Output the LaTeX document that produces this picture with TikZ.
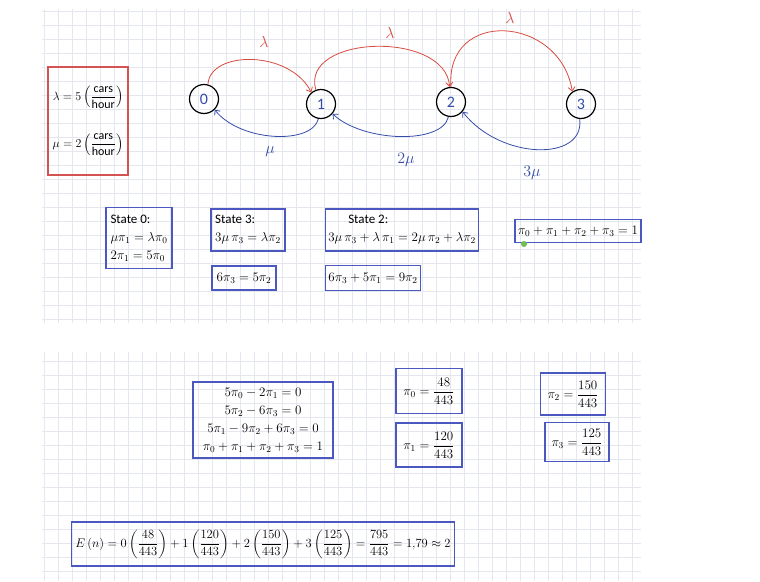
\documentclass[tikz,border=0pt]{standalone}
\usepackage{fix-cm}
\usepackage{amsmath}
\usepackage{fontspec}
\setmainfont{Carlito}
\newfontfamily\digitfont{Carlito}[NFSSFamily=carlitodig]
\DeclareSymbolFont{sfdigits}{TU}{carlitodig}{m}{n}
\DeclareMathSymbol{0}{\mathalpha}{sfdigits}{`0}
\DeclareMathSymbol{1}{\mathalpha}{sfdigits}{`1}
\DeclareMathSymbol{2}{\mathalpha}{sfdigits}{`2}
\DeclareMathSymbol{3}{\mathalpha}{sfdigits}{`3}
\DeclareMathSymbol{4}{\mathalpha}{sfdigits}{`4}
\DeclareMathSymbol{5}{\mathalpha}{sfdigits}{`5}
\DeclareMathSymbol{6}{\mathalpha}{sfdigits}{`6}
\DeclareMathSymbol{7}{\mathalpha}{sfdigits}{`7}
\DeclareMathSymbol{8}{\mathalpha}{sfdigits}{`8}
\DeclareMathSymbol{9}{\mathalpha}{sfdigits}{`9}
\usetikzlibrary{positioning,arrows.meta}

\definecolor{lamred}{RGB}{214,74,64}
\definecolor{mublue}{RGB}{52,76,168}
\definecolor{boxblue}{RGB}{74,88,192}
\definecolor{boxred}{RGB}{212,82,82}
\definecolor{gridcol}{RGB}{228,232,238}
\definecolor{dotgreen}{RGB}{110,190,80}

\tikzset{
  state/.style={circle,draw,line width=1.2pt,minimum size=29pt,inner sep=0pt,
    text=mublue,font=\fontsize{16}{16}\selectfont},
  lamarrow/.style={->,lamred,line width=0.8pt},
  muarrow/.style={->,mublue,line width=0.8pt},
  ratelabel/.style={font=\fontsize{16}{16}\selectfont},
  eqbox/.style={draw=boxblue,line width=1.3pt,inner sep=3pt,
    font=\fontsize{13}{18}\selectfont},
  gridline/.style={gridcol,line width=0.8pt},
}

\begin{document}
\begin{tikzpicture}[>={Straight Barb[length=4pt,width=7pt]},x=1pt,y=-1pt]
  \useasboundingbox (0,0) rectangle (760,581);
  % squared paper, two sheets
  \foreach \gx in {44,58,...,640} {
    \draw[gridline] (\gx,9) -- (\gx,323);
    \draw[gridline] (\gx,352) -- (\gx,581);
  }
  \foreach \gy in {11,25,...,323} \draw[gridline] (42,\gy) -- (641,\gy);
  \foreach \gy in {361,375,...,581} \draw[gridline] (42,\gy) -- (641,\gy);

  % rates
  \node[draw=boxred,line width=1.3pt,minimum width=80pt,minimum height=108pt,
    align=center,font=\fontsize{12}{14}\selectfont] (rates) at (88,121)
    {$\lambda=5\left(\dfrac{\text{cars}}{\text{hour}}\right)$\\[24pt]
     $\mu=2\left(\dfrac{\text{cars}}{\text{hour}}\right)$};

  % birth-death chain
  \node[state] (s0) at (204,99) {0};
  \node[state] (s1) at (321,104) {1};
  \node[state] (s2) at (451,102) {2};
  \node[state] (s3) at (581,104) {3};

  \draw[lamarrow] (s0.75) .. controls (210,50) and (290,50) .. (s1.130);
  \draw[lamarrow] (s1.110) .. controls (300,35) and (445,30) .. (s2.95);
  \draw[lamarrow] (s2.north) .. controls (445,8) and (560,15) .. (s3.125);
  \draw[muarrow] (s1.-100) .. controls (312,145) and (240,142) .. (s0.-45);
  \draw[muarrow] (s2.-100) .. controls (442,145) and (362,142) .. (s1.-40);
  \draw[muarrow] (s3.-95) .. controls (585,162) and (500,160) .. (s2.-40);

  \node[ratelabel,lamred] (l01) at (264,42) {$\lambda$};
  \node[ratelabel,lamred] (l12) at (390,33) {$\lambda$};
  \node[ratelabel,lamred] (l23) at (510,18) {$\lambda$};
  \node[ratelabel,mublue] (m10) at (270,152) {$\mu$};
  \node[ratelabel,mublue] (m21) at (406,160) {$2\mu$};
  \node[ratelabel,mublue] (m32) at (532,173) {$3\mu$};

  % balance equations
  \node[eqbox,minimum width=66pt,minimum height=61pt,align=left] (st0) at (139,238)
    {State 0:\\ $\mu\pi_1=\lambda\pi_0$\\ $2\pi_1=5\pi_0$};
  \node[eqbox,minimum width=74pt,minimum height=42pt,align=left] (st3) at (248,230)
    {State 3:\\ $3\mu\,\pi_3=\lambda\pi_2$};
  \node[eqbox,minimum width=64pt,minimum height=24pt] (st3b) at (244,278)
    {$6\pi_3=5\pi_2$};
  \node[eqbox,minimum width=153pt,minimum height=42pt,align=left] (st2) at (402,230)
    {\hspace*{20pt}State 2:\\ $3\mu\,\pi_3+\lambda\,\pi_1=2\mu\,\pi_2+\lambda\pi_2$};
  \node[eqbox,minimum width=95pt,minimum height=25pt] (st2b) at (373,278)
    {$6\pi_3+5\pi_1=9\pi_2$};
  \node[eqbox,minimum width=126pt,minimum height=23pt] (norm) at (578,231)
    {$\pi_0+\pi_1+\pi_2+\pi_3=1$};
  \fill[dotgreen] (524,244) circle (3pt);

  % solution
  \node[eqbox,minimum width=140pt,minimum height=76pt,align=center] (sys) at (263,420)
    {$5\pi_0-2\pi_1=0$\\ $5\pi_2-6\pi_3=0$\\ $5\pi_1-9\pi_2+6\pi_3=0$\\ $\pi_0+\pi_1+\pi_2+\pi_3=1$};
  \node[eqbox,minimum width=66pt,minimum height=45pt] (p0) at (429,391) {$\pi_0=\dfrac{48}{443}$};
  \node[eqbox,minimum width=66pt,minimum height=44pt] (p1) at (429,445) {$\pi_1=\dfrac{120}{443}$};
  \node[eqbox,minimum width=65pt,minimum height=42pt] (p2) at (573,394) {$\pi_2=\dfrac{150}{443}$};
  \node[eqbox,minimum width=64pt,minimum height=39pt] (p3) at (577,442) {$\pi_3=\dfrac{125}{443}$};

  % expected number of cars
  \node[eqbox,minimum width=383pt,minimum height=44pt,font=\fontsize{12.5}{15}\selectfont] (En) at (263,544)
    {$E\,(n)=0\left(\dfrac{48}{443}\right)+1\left(\dfrac{120}{443}\right)
      +2\left(\dfrac{150}{443}\right)+3\left(\dfrac{125}{443}\right)
      =\dfrac{795}{443}=1{,}79\approx 2$};
\end{tikzpicture}
\end{document}
